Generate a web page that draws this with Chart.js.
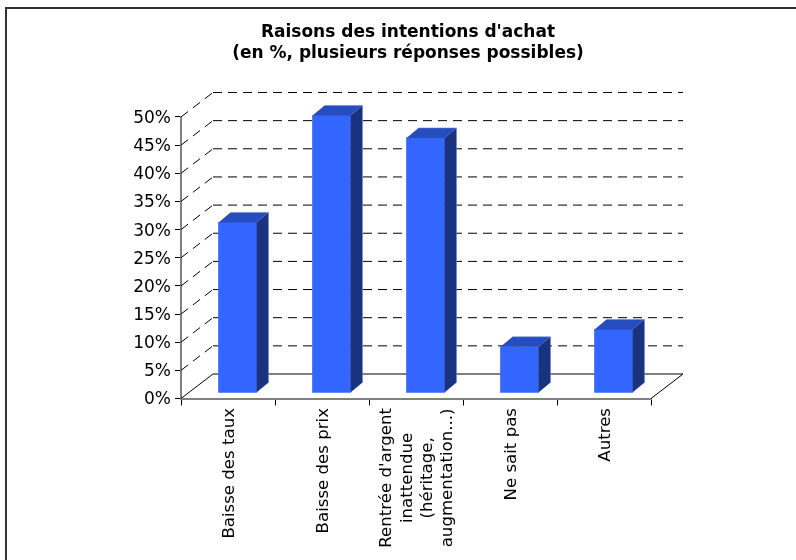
<!DOCTYPE html>
<html>
<head>
<meta charset="utf-8">
<title>Raisons des intentions d'achat</title>
<script src="https://cdn.jsdelivr.net/npm/chart.js@4"></script>
<style>
  html, body { margin: 0; padding: 0; background: #fff; }
  #wrap { width: 796px; height: 560px; }
</style>
</head>
<body>
<div id="wrap"><canvas id="chart" width="796" height="560"></canvas></div>
<script>
const titleLines = ["Raisons des intentions d'achat", "(en %, plusieurs réponses possibles)"];
const categories = [
  ["Baisse des taux"],
  ["Baisse des prix"],
  ["Rentrée d'argent", "inattendue", "(héritage,", "augmentation...)"],
  ["Ne sait pas"],
  ["Autres"]
];
const percentages = [30.3, 49.3, 45.3, 8.2, 11.3];

const fontFamily = "'DejaVu Sans', Verdana, sans-serif";

// depth of the fake 3D box, and of each bar inside it
const depthX = 32, depthY = 24.5;
const barShiftX = 9.5, barShiftY = 5.5;
const barDepthX = 12, barDepthY = 10;

function line(ctx, x1, y1, x2, y2) {
  ctx.beginPath();
  ctx.moveTo(x1, y1);
  ctx.lineTo(x2, y2);
  ctx.stroke();
}

const box3d = {
  id: "box3d",
  beforeDraw(chart) {
    const ctx = chart.ctx;
    ctx.save();
    ctx.strokeStyle = "#333";
    ctx.lineWidth = 2;
    ctx.beginPath();
    ctx.moveTo(6, 560);
    ctx.lineTo(6, 8);
    ctx.lineTo(796, 8);
    ctx.stroke();
    ctx.restore();
  },
  beforeDatasetsDraw(chart) {
    const { ctx, chartArea } = chart;
    const y = chart.scales.y;
    const { left, right } = chartArea;
    ctx.save();
    ctx.strokeStyle = "#000";
    ctx.lineWidth = 1;
    y.ticks.forEach((t) => {
      const py = y.getPixelForValue(t.value);
      ctx.setLineDash(t.value === 0 ? [] : [9, 6]);
      line(ctx, left, py, left + depthX, py - depthY);
      line(ctx, left + depthX, py - depthY, right + depthX, py - depthY);
    });
    ctx.setLineDash([]);
    const py0 = y.getPixelForValue(0);
    line(ctx, right, py0, right + depthX, py0 - depthY);
    ctx.restore();

    // bars sit a little inside the floor
    ctx.save();
    ctx.translate(barShiftX, -barShiftY);
  },
  afterDatasetsDraw(chart) {
    const ctx = chart.ctx;
    chart.getDatasetMeta(0).data.forEach((bar) => {
      const p = bar.getProps(["x", "y", "base", "width"], true);
      const l = p.x - p.width / 2, r = p.x + p.width / 2;
      ctx.fillStyle = "#264dbf";
      ctx.beginPath();
      ctx.moveTo(l, p.y);
      ctx.lineTo(l + barDepthX, p.y - barDepthY);
      ctx.lineTo(r + barDepthX, p.y - barDepthY);
      ctx.lineTo(r, p.y);
      ctx.closePath();
      ctx.fill();
      ctx.fillStyle = "#19337f";
      ctx.beginPath();
      ctx.moveTo(r, p.y);
      ctx.lineTo(r + barDepthX, p.y - barDepthY);
      ctx.lineTo(r + barDepthX, p.base - barDepthY);
      ctx.lineTo(r, p.base);
      ctx.closePath();
      ctx.fill();
      // pale edge on the far side of the bar
      ctx.strokeStyle = "rgba(110,135,210,0.7)";
      ctx.lineWidth = 0.8;
      ctx.beginPath();
      ctx.moveTo(l + barDepthX, p.y - barDepthY);
      ctx.lineTo(r + barDepthX, p.y - barDepthY);
      ctx.lineTo(r + barDepthX, p.base - barDepthY);
      ctx.stroke();
    });
    ctx.restore();
  },
  afterDraw(chart) {
    // category labels: rotated, lines centred on each other, top edge on the axis
    const ctx = chart.ctx;
    const x = chart.scales.x;
    ctx.save();
    ctx.font = "16.6px " + fontFamily;
    ctx.fillStyle = "#000";
    ctx.textAlign = "center";
    ctx.textBaseline = "middle";
    categories.forEach((lines, i) => {
      const widest = Math.max(...lines.map((s) => ctx.measureText(s).width));
      const cx = x.getPixelForValue(i) + 1.5;
      const cy = 408 + widest / 2;
      lines.forEach((s, j) => {
        ctx.save();
        ctx.translate(cx + (j - (lines.length - 1) / 2) * 20.3, cy);
        ctx.rotate(-Math.PI / 2);
        ctx.fillText(s, 0, 0);
        ctx.restore();
      });
    });
    ctx.restore();
  }
};

new Chart(document.getElementById("chart"), {
  type: "bar",
  data: {
    labels: categories.map((c) => c.join(" ")),
    datasets: [{
      data: percentages,
      backgroundColor: "#3366ff",
      borderWidth: 0,
      barThickness: 38
    }]
  },
  plugins: [box3d, {
    id: "titleCentre",
    afterLayout(chart) {
      chart.titleBlock.left = 20;
      chart.titleBlock.right = 796;
    }
  }],
  options: {
    responsive: false,
    animation: false,
    layout: { padding: { top: 0, left: 0, right: 145, bottom: 0 } },
    plugins: {
      legend: { display: false },
      tooltip: { enabled: false },
      title: {
        display: true,
        text: titleLines,
        color: "#000",
        font: { family: fontFamily, size: 17, weight: "bold", lineHeight: 1.235 },
        padding: { top: 22, bottom: 53 }
      }
    },
    scales: {
      x: {
        offset: true,
        ticks: { display: false, autoSkip: false },
        grid: { drawOnChartArea: false, tickLength: 7, color: "#000" },
        border: { color: "#808080", width: 2 },
        afterFit(scale) { scale.height = 161.5; }
      },
      y: {
        min: 0,
        max: 50,
        ticks: {
          stepSize: 5,
          color: "#000",
          padding: 4,
          labelOffset: 1.5,
          font: { family: fontFamily, size: 17 },
          callback: (v) => v + "%"
        },
        grid: { drawOnChartArea: false, tickLength: 6, color: "#000" },
        border: { color: "#808080", width: 2 },
        afterFit(scale) { scale.width = 181; }
      }
    }
  }
});
</script>
</body>
</html>
